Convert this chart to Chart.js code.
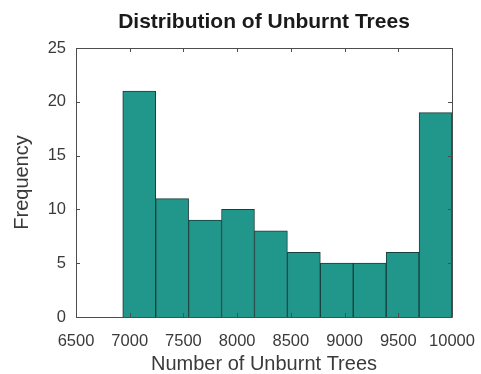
<!DOCTYPE html>
<html>
<head>
<meta charset="utf-8">
<script src="https://cdn.jsdelivr.net/npm/chart.js@4/dist/chart.umd.min.js"></script>
<style>
  html, body { margin: 0; padding: 0; background: #fff; }
  #wrap { width: 481px; height: 374px; }
</style>
</head>
<body>
<div id="wrap"><canvas id="c" width="481" height="374"></canvas></div>
<script>
// Histogram of unburnt tree counts: bin edges and counts per bin
const binEdges = [6935, 7242, 7548, 7855, 8161, 8468, 8774, 9081, 9387, 9694, 10000];
const counts = [21, 11, 9, 10, 8, 6, 5, 5, 6, 19];
const xTicks = [6500, 7000, 7500, 8000, 8500, 9000, 9500, 10000];
const yTicks = [0, 5, 10, 15, 20, 25];

const points = counts.map((c, i) => ({ x: (binEdges[i] + binEdges[i + 1]) / 2, y: c }));

const FONT = "'Liberation Sans', Arial, Helvetica, sans-serif";
const AXIS_COLOR = '#4d4d4d';
const TEXT_COLOR = '#3a3a3a';

// Box around the axes with inward tick marks on all four sides
const boxTicks = {
  id: 'boxTicks',
  afterDatasetsDraw(chart) {
    const { ctx, chartArea: a, scales } = chart;
    const L = 4;
    ctx.save();
    ctx.strokeStyle = AXIS_COLOR;
    ctx.lineWidth = 1;
    ctx.beginPath();
    ctx.rect(Math.round(a.left) + 0.5, Math.round(a.top) + 0.5,
             Math.round(a.right - a.left), Math.round(a.bottom - a.top));
    xTicks.forEach(v => {
      const px = Math.round(scales.x.getPixelForValue(v)) + 0.5;
      ctx.moveTo(px, a.top); ctx.lineTo(px, a.top + L);
      ctx.moveTo(px, a.bottom); ctx.lineTo(px, a.bottom - L);
    });
    yTicks.forEach(v => {
      const py = Math.round(scales.y.getPixelForValue(v)) + 0.5;
      ctx.moveTo(a.left, py); ctx.lineTo(a.left + L, py);
      ctx.moveTo(a.right, py); ctx.lineTo(a.right - L, py);
    });
    ctx.stroke();
    ctx.restore();
  }
};

new Chart(document.getElementById('c'), {
  type: 'bar',
  data: {
    datasets: [{
      data: points,
      backgroundColor: '#21968b',
      borderColor: '#173f3c',
      borderWidth: 1,
      barPercentage: 1,
      categoryPercentage: 1
    }]
  },
  options: {
    responsive: false,
    animation: false,
    layout: { padding: { left: 0, right: 29, top: 0, bottom: 0 } },
    plugins: {
      legend: { display: false },
      tooltip: { enabled: false },
      title: {
        display: true,
        fullSize: false,
        text: 'Distribution of Unburnt Trees',
        color: '#1a1a1a',
        font: { family: FONT, size: 21, weight: 'bold', lineHeight: 1.2 },
        padding: { top: 9.4, bottom: 13.4 }
      }
    },
    scales: {
      x: {
        type: 'linear',
        offset: false,
        min: 6500,
        max: 10000,
        afterBuildTicks(s) { s.ticks = xTicks.map(v => ({ value: v })); },
        afterFit(s) { s.height = 57; s.paddingLeft = 0; s.paddingRight = 0; },
        grid: { display: false, drawTicks: false },
        border: { display: false },
        ticks: {
          color: TEXT_COLOR,
          font: { family: FONT, size: 16.5 },
          padding: 15,
          maxRotation: 0,
          autoSkip: false,
          callback: v => String(v)
        },
        title: {
          display: true,
          text: 'Number of Unburnt Trees',
          color: TEXT_COLOR,
          font: { family: FONT, size: 20, lineHeight: 1 },
          padding: { top: 0, bottom: 0 }
        }
      },
      y: {
        min: 0,
        max: 25,
        afterBuildTicks(s) { s.ticks = yTicks.map(v => ({ value: v })); },
        afterFit(s) { s.width = 76; s.paddingTop = 0; s.paddingBottom = 0; },
        grid: { display: false, drawTicks: false },
        border: { display: false },
        ticks: {
          color: TEXT_COLOR,
          font: { family: FONT, size: 16.5 },
          padding: 10,
          callback: v => String(v)
        },
        title: {
          display: true,
          text: 'Frequency',
          color: TEXT_COLOR,
          font: { family: FONT, size: 20, lineHeight: 1 },
          padding: { top: 12, bottom: 0 }
        }
      }
    }
  },
  plugins: [boxTicks]
});
</script>
</body>
</html>
